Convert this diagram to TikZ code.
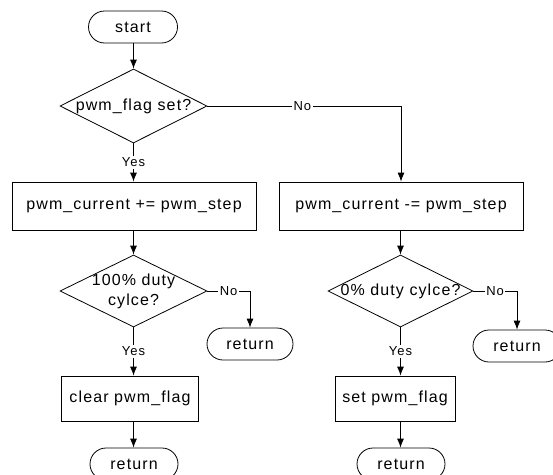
\documentclass[tikz,border=0pt]{standalone}
\usepackage{fontspec}
\setmainfont[LetterSpace=7]{Liberation Sans}
\usetikzlibrary{shapes.geometric,arrows.meta}
\newcommand\fmain{\fontsize{16}{20}\selectfont}
\newcommand\flbl{\fontsize{13}{15}\selectfont}
\begin{document}
\begin{tikzpicture}[x=1pt,y=-1pt,line width=0.8pt,font=\fmain,
  term/.style={draw,rectangle,rounded corners=16pt,minimum width=88pt,minimum height=32pt,inner sep=0pt},
  proc/.style={draw,rectangle,minimum height=48pt,inner sep=0pt},
  dia/.style={draw,diamond,inner sep=0pt},
  lbl/.style={fill=white,inner sep=1.5pt,font=\flbl},
  arr/.style={-{Latex[length=9pt,width=7pt]}}]
\useasboundingbox (0,0) rectangle (553,474);
% nodes
\node[term,minimum width=89pt] (start) at (133,27) {start};
\node[dia,minimum width=147pt,minimum height=74pt] (d1) at (133.5,106) {};
\node (t1) at (d1) {pwm\_flag set?};
\node[proc,minimum width=244pt] (b1) at (134,206) {pwm\_current += pwm\_step};
\node[proc,minimum width=244pt] (b2) at (401,206) {pwm\_current -= pwm\_step};
\node[dia,minimum width=147pt,minimum height=72pt] (d2) at (133.5,291) {};
\node[align=center] (t2) at (d2) {100\% duty\\cylce?};
\node[term,minimum width=86pt] (r1) at (250,344) {return};
\node[proc,minimum width=137pt,minimum height=45pt] (b3) at (130,398.5) {clear pwm\_flag};
\node[term] (r3) at (134,464) {return};
\node[dia,minimum width=145pt,minimum height=72pt] (d3) at (400.5,291) {};
\node (t3) at (d3) {0\% duty cylce?};
\node[term] (r2) at (517,346) {return};
\node[proc,minimum width=120pt,minimum height=45pt] (b4) at (395,398.5) {set pwm\_flag};
\node[term] (r4) at (401,464) {return};
% connectors
\draw[arr] (d1.north |- start.south) -- (d1.north);
\draw[arr] (d1.south) -- node[lbl] {Yes} (d1.south |- b1.north);
\draw[arr] (d1.east) -- node[lbl,pos=0.49] {No} (d1.east -| b2.north) -- (b2.north);
\draw[arr] (d2.north |- b1.south) -- (d2.north);
\draw[arr] (d2.east) -| node[lbl,pos=0.25] {No} (r1.north);
\draw[arr] (d2.south) -- node[lbl] {Yes} (d2.south |- b3.north);
\draw[arr] (d2.south |- b3.south) -- (d2.south |- r3.north);
\draw[arr] (d3.north |- b2.south) -- (d3.north);
\draw[arr] (d3.east) -| node[lbl,pos=0.25] {No} (r2.north);
\draw[arr] (d3.south) -- node[lbl] {Yes} (d3.south |- b4.north);
\draw[arr] (d3.south |- b4.south) -- (d3.south |- r4.north);
\end{tikzpicture}
\end{document}
